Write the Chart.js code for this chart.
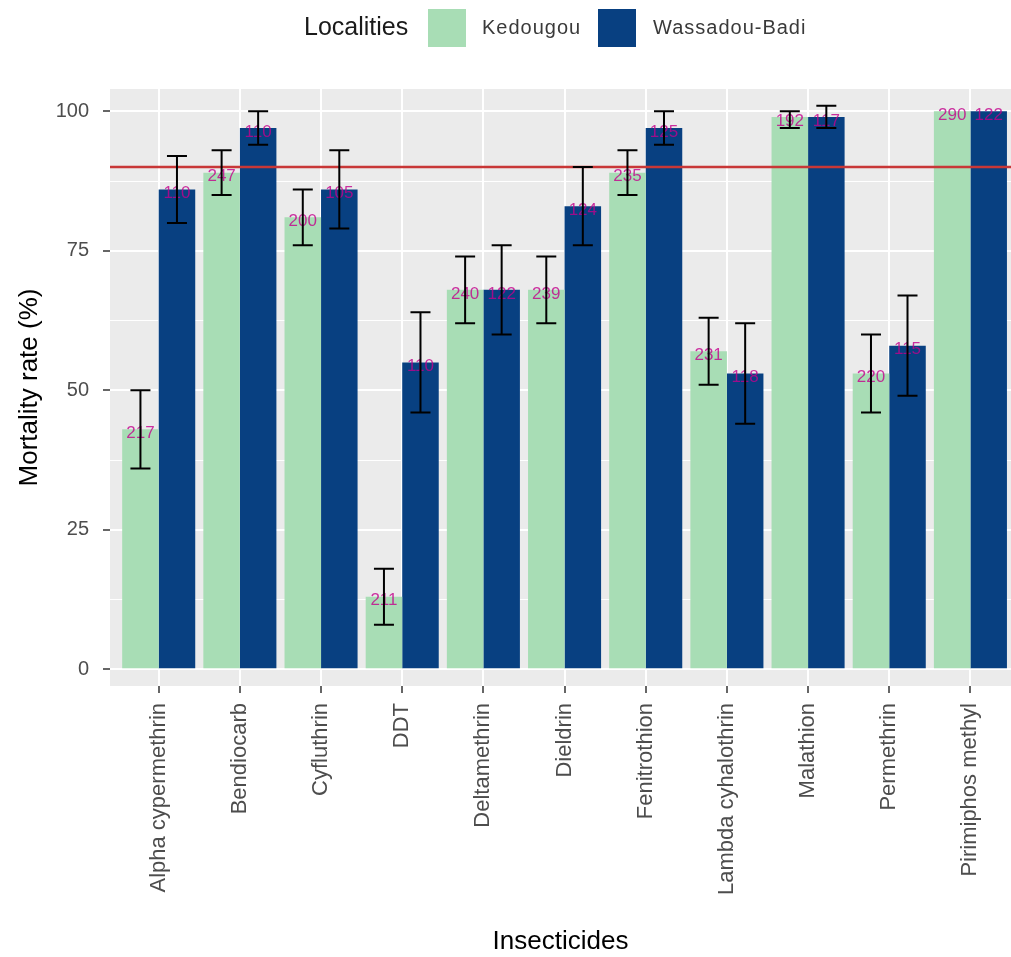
<!DOCTYPE html>
<html lang="en">
<head>
<meta charset="UTF-8">
<title>Mortality rate by insecticide</title>
<style>
  body { margin: 0; background: #fff; font-family: "Liberation Sans", Arial, sans-serif; }
  #wrap { position: relative; width: 1011px; height: 957px; }
  #legend { position: absolute; top: 0; left: 0; width: 1011px; height: 56px; }
  #legend div { position: absolute; }
  .ltitle { left: 304px; top: 12px; font-size: 25px; color: #1a1a1a; }
  .lkey { top: 9px; width: 38px; height: 38px; }
  .llab { top: 16px; font-size: 20px; letter-spacing: 1px; color: #3a3a3a; }
</style>
<script src="https://cdn.jsdelivr.net/npm/chart.js"></script>
</head>
<body>
<div id="wrap">
  <canvas id="chart" width="1011" height="957"></canvas>
  <div id="legend">
    <div class="ltitle">Localities</div>
    <div class="lkey" style="left:428px;background:#a8ddb5"></div>
    <div class="llab" style="left:482px">Kedougou</div>
    <div class="lkey" style="left:598px;background:#084081"></div>
    <div class="llab" style="left:653px">Wassadou-Badi</div>
  </div>
</div>
<script>
// data
const categories = ['Alpha cypermethrin', 'Bendiocarb', 'Cyfluthrin', 'DDT', 'Deltamethrin', 'Dieldrin',
  'Fenitrothion', 'Lambda cyhalothrin', 'Malathion', 'Permethrin', 'Pirimiphos methyl'];
const kedougou = [43, 89, 81, 13, 68, 68, 89, 57, 99, 53, 100];
const kedLow   = [36, 85, 76, 8, 62, 62, 85, 51, 97, 46, 100];
const kedHigh  = [50, 93, 86, 18, 74, 74, 93, 63, 100, 60, 100];
const kedN     = [217, 247, 200, 211, 240, 239, 235, 231, 192, 220, 290];
const wassadou = [86, 97, 86, 55, 68, 83, 97, 53, 99, 58, 100];
const wasLow   = [80, 94, 79, 46, 60, 76, 94, 44, 97, 49, 100];
const wasHigh  = [92, 100, 93, 64, 76, 90, 100, 62, 101, 67, 100];
const wasN     = [110, 110, 105, 110, 122, 124, 125, 118, 117, 115, 122];
const yTicks = [0, 12.5, 25, 37.5, 50, 62.5, 75, 87.5, 100];
const threshold = 90;

const FONT = '"Liberation Sans", Arial, sans-serif';
Chart.defaults.font.family = FONT;

const toPoints = vals => vals.map((v, i) => ({ x: i, y: v }));
const isMajor = v => v % 25 === 0;

// grey ggplot panel
const panelBg = {
  id: 'panelBg',
  beforeDraw(chart) {
    const { ctx, chartArea: a } = chart;
    ctx.save();
    ctx.fillStyle = '#ebebeb';
    ctx.fillRect(a.left, a.top, a.right - a.left, a.bottom - a.top);
    ctx.restore();
  }
};

// hline, n labels and error bars
const overlays = {
  id: 'overlays',
  afterDatasetsDraw(chart) {
    const { ctx, chartArea: a, scales: { y } } = chart;
    ctx.save();
    ctx.beginPath();
    ctx.rect(a.left, a.top, a.right - a.left, a.bottom - a.top);
    ctx.clip();

    const ty = y.getPixelForValue(threshold);
    ctx.strokeStyle = 'rgb(200,55,55)';
    ctx.lineWidth = 2.5;
    ctx.beginPath();
    ctx.moveTo(a.left, ty);
    ctx.lineTo(a.right, ty);
    ctx.stroke();

    const series = [[kedougou, kedLow, kedHigh, kedN], [wassadou, wasLow, wasHigh, wasN]];
    ctx.font = '17px ' + FONT;
    ctx.textAlign = 'center';
    ctx.textBaseline = 'middle';
    ctx.fillStyle = 'rgba(195,0,140,0.8)';
    series.forEach((s, di) => {
      chart.getDatasetMeta(di).data.forEach((bar, i) => {
        ctx.fillText(String(s[3][i]), bar.x, y.getPixelForValue(s[0][i]) + 4);
      });
    });

    ctx.strokeStyle = '#000';
    ctx.lineWidth = 2;
    series.forEach((s, di) => {
      chart.getDatasetMeta(di).data.forEach((bar, i) => {
        if (s[2][i] <= s[1][i]) return;
        const lo = y.getPixelForValue(s[1][i]);
        const hi = y.getPixelForValue(s[2][i]);
        ctx.beginPath();
        ctx.moveTo(bar.x, lo); ctx.lineTo(bar.x, hi);
        ctx.moveTo(bar.x - 10, lo); ctx.lineTo(bar.x + 10, lo);
        ctx.moveTo(bar.x - 10, hi); ctx.lineTo(bar.x + 10, hi);
        ctx.stroke();
      });
    });
    ctx.restore();
  }
};

new Chart(document.getElementById('chart'), {
  type: 'bar',
  data: {
    datasets: [
      { label: 'Kedougou', data: toPoints(kedougou), backgroundColor: '#a8ddb5' },
      { label: 'Wassadou-Badi', data: toPoints(wassadou), backgroundColor: '#084081' }
    ]
  },
  options: {
    responsive: false,
    animation: false,
    categoryPercentage: 0.9,
    barPercentage: 1.0,
    layout: { padding: { top: 89, left: 0, right: 0, bottom: 0 } },
    plugins: { legend: { display: false }, tooltip: { enabled: false } },
    scales: {
      x: {
        type: 'linear',
        min: -0.6,
        max: 10.5,
        offset: false,
        afterBuildTicks: s => { s.ticks = categories.map((c, i) => ({ value: i })); },
        afterFit: s => { s.height = 271; },
        border: { display: false },
        grid: { offset: false, color: '#ffffff', lineWidth: 2, tickColor: '#333333', tickLength: 7, tickWidth: 1.5 },
        ticks: {
          autoSkip: false, minRotation: 90, maxRotation: 90, padding: 10,
          color: '#4d4d4d', font: { size: 22 },
          callback: v => categories[v]
        },
        title: { display: true, text: 'Insecticides', color: '#000', font: { size: 26 }, padding: { top: 0, bottom: 0 } }
      },
      y: {
        min: -3,
        max: 104,
        afterBuildTicks: s => { s.ticks = yTicks.map(v => ({ value: v })); },
        afterFit: s => { s.width = 110; },
        border: { display: false },
        grid: {
          color: '#ffffff',
          lineWidth: c => isMajor(c.tick.value) ? 2 : 1,
          tickColor: c => isMajor(c.tick.value) ? '#333333' : 'rgba(0,0,0,0)',
          tickLength: 7, tickWidth: 1.5
        },
        ticks: {
          padding: 14, color: '#4d4d4d', font: { size: 20 },
          callback: v => isMajor(v) ? String(v) : ''
        },
        title: { display: true, text: 'Mortality rate (%)', color: '#000', font: { size: 26 }, padding: { top: 14, bottom: 0 } }
      }
    }
  },
  plugins: [panelBg, overlays]
});
</script>
</body>
</html>
